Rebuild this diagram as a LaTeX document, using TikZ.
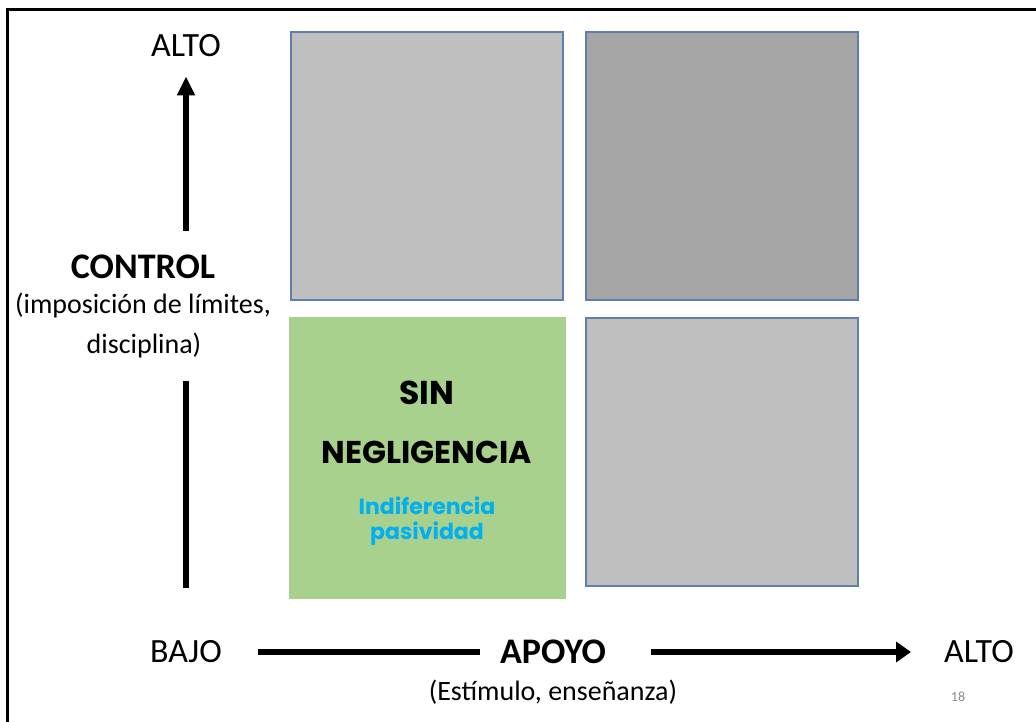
\documentclass[tikz,border=0pt]{standalone}
\usepackage{fontspec}
\setmainfont{Carlito}
\newfontfamily\gothic{Poppins}
\usetikzlibrary{arrows.meta,calc}
\definecolor{sqgray}{HTML}{BFBFBF}
\definecolor{sqdark}{HTML}{A5A5A5}
\definecolor{sqborder}{HTML}{5B7FAE}
\definecolor{sqgreen}{HTML}{A9D18E}
\definecolor{cyantext}{HTML}{00B0F0}
\definecolor{pagenum}{HTML}{8C8C8C}
\newcommand{\fs}[1]{\fontsize{#1}{#1}\selectfont}
\tikzset{
  lbl/.style={inner sep=0pt, text=black},
  sq/.style={draw=sqborder, line width=1.6pt, minimum width=272pt, minimum height=268pt, inner sep=0pt},
  axis/.style={line width=6pt, black},
  frameline/.style={line width=3pt, black},
}
\begin{document}
\begin{tikzpicture}[x=1pt,y=-1pt]
\useasboundingbox (0,0) rectangle (1036,722);
\fill[white] (0,0) rectangle (1036,722);
% frame
\coordinate (fc) at (7,10);
\coordinate (fr) at (1040,10);
\coordinate (fb) at (7,726);
\draw[frameline] (fr) -- (fc) -- (fb);
% squares
\node[sq, fill=sqgray] (q1) at (427,166) {};
\node[sq, fill=sqdark] (q2) at (722,166) {};
\node[draw=none, fill=sqgreen, minimum width=277pt, minimum height=282pt, inner sep=0pt] (q3) at (427.5,458) {};
\node[sq, fill=sqgray] (q4) at (722,452) {};
% green text
\node[lbl] (sin) at (427,393) {\gothic\bfseries\fs{33}SIN};
\node[lbl] (neg) at (427,452) {\gothic\bfseries\fs{31.5}NEGLIGENCIA};
\node[lbl, text=cyantext] (ind) at (427,506) {\gothic\bfseries\fs{22}Indiferencia};
\node[lbl, text=cyantext] (pas) at (427,534) {\gothic\bfseries\fs{22}pasividad};
% vertical axis
\node[lbl] (altov) at (186,46) {\fs{34}ALTO};
\node[lbl] (control) at (143,267) {\bfseries\fs{36}CONTROL};
\node[lbl] (imp) at (143,306) {\fs{28}(imposición de límites,};
\node[lbl] (disc) at (144,346) {\fs{28}disciplina)};
\coordinate (vbot) at (186,588);
\draw[axis, -{Triangle[length=19pt,width=17pt]}, shorten <=24pt, shorten >=19pt]
  (altov.south |- control.north) -- (altov.south);
\draw[axis, shorten >=22pt] (vbot) -- (altov.south |- disc.south);
% horizontal axis
\node[lbl] (bajo) at (186,652) {\fs{34}BAJO};
\node[lbl] (apoyo) at (553,652) {\bfseries\fs{36}APOYO};
\node[lbl] (altoh) at (979,652) {\fs{34}ALTO};
\node[lbl] (estim) at (553,692) {\fs{28}(Estímulo, enseñanza)};
\node[lbl, text=pagenum] (pg) at (958,697) {\fs{14}18};
\draw[axis, shorten <=36pt, shorten >=20pt] (bajo.east) -- (apoyo.west |- bajo.east);
\draw[axis, -{Triangle[length=15pt,width=20pt]}, shorten <=45pt, shorten >=33pt]
  (apoyo.east) -- (altoh.west |- apoyo.east);
\end{tikzpicture}
\end{document}
